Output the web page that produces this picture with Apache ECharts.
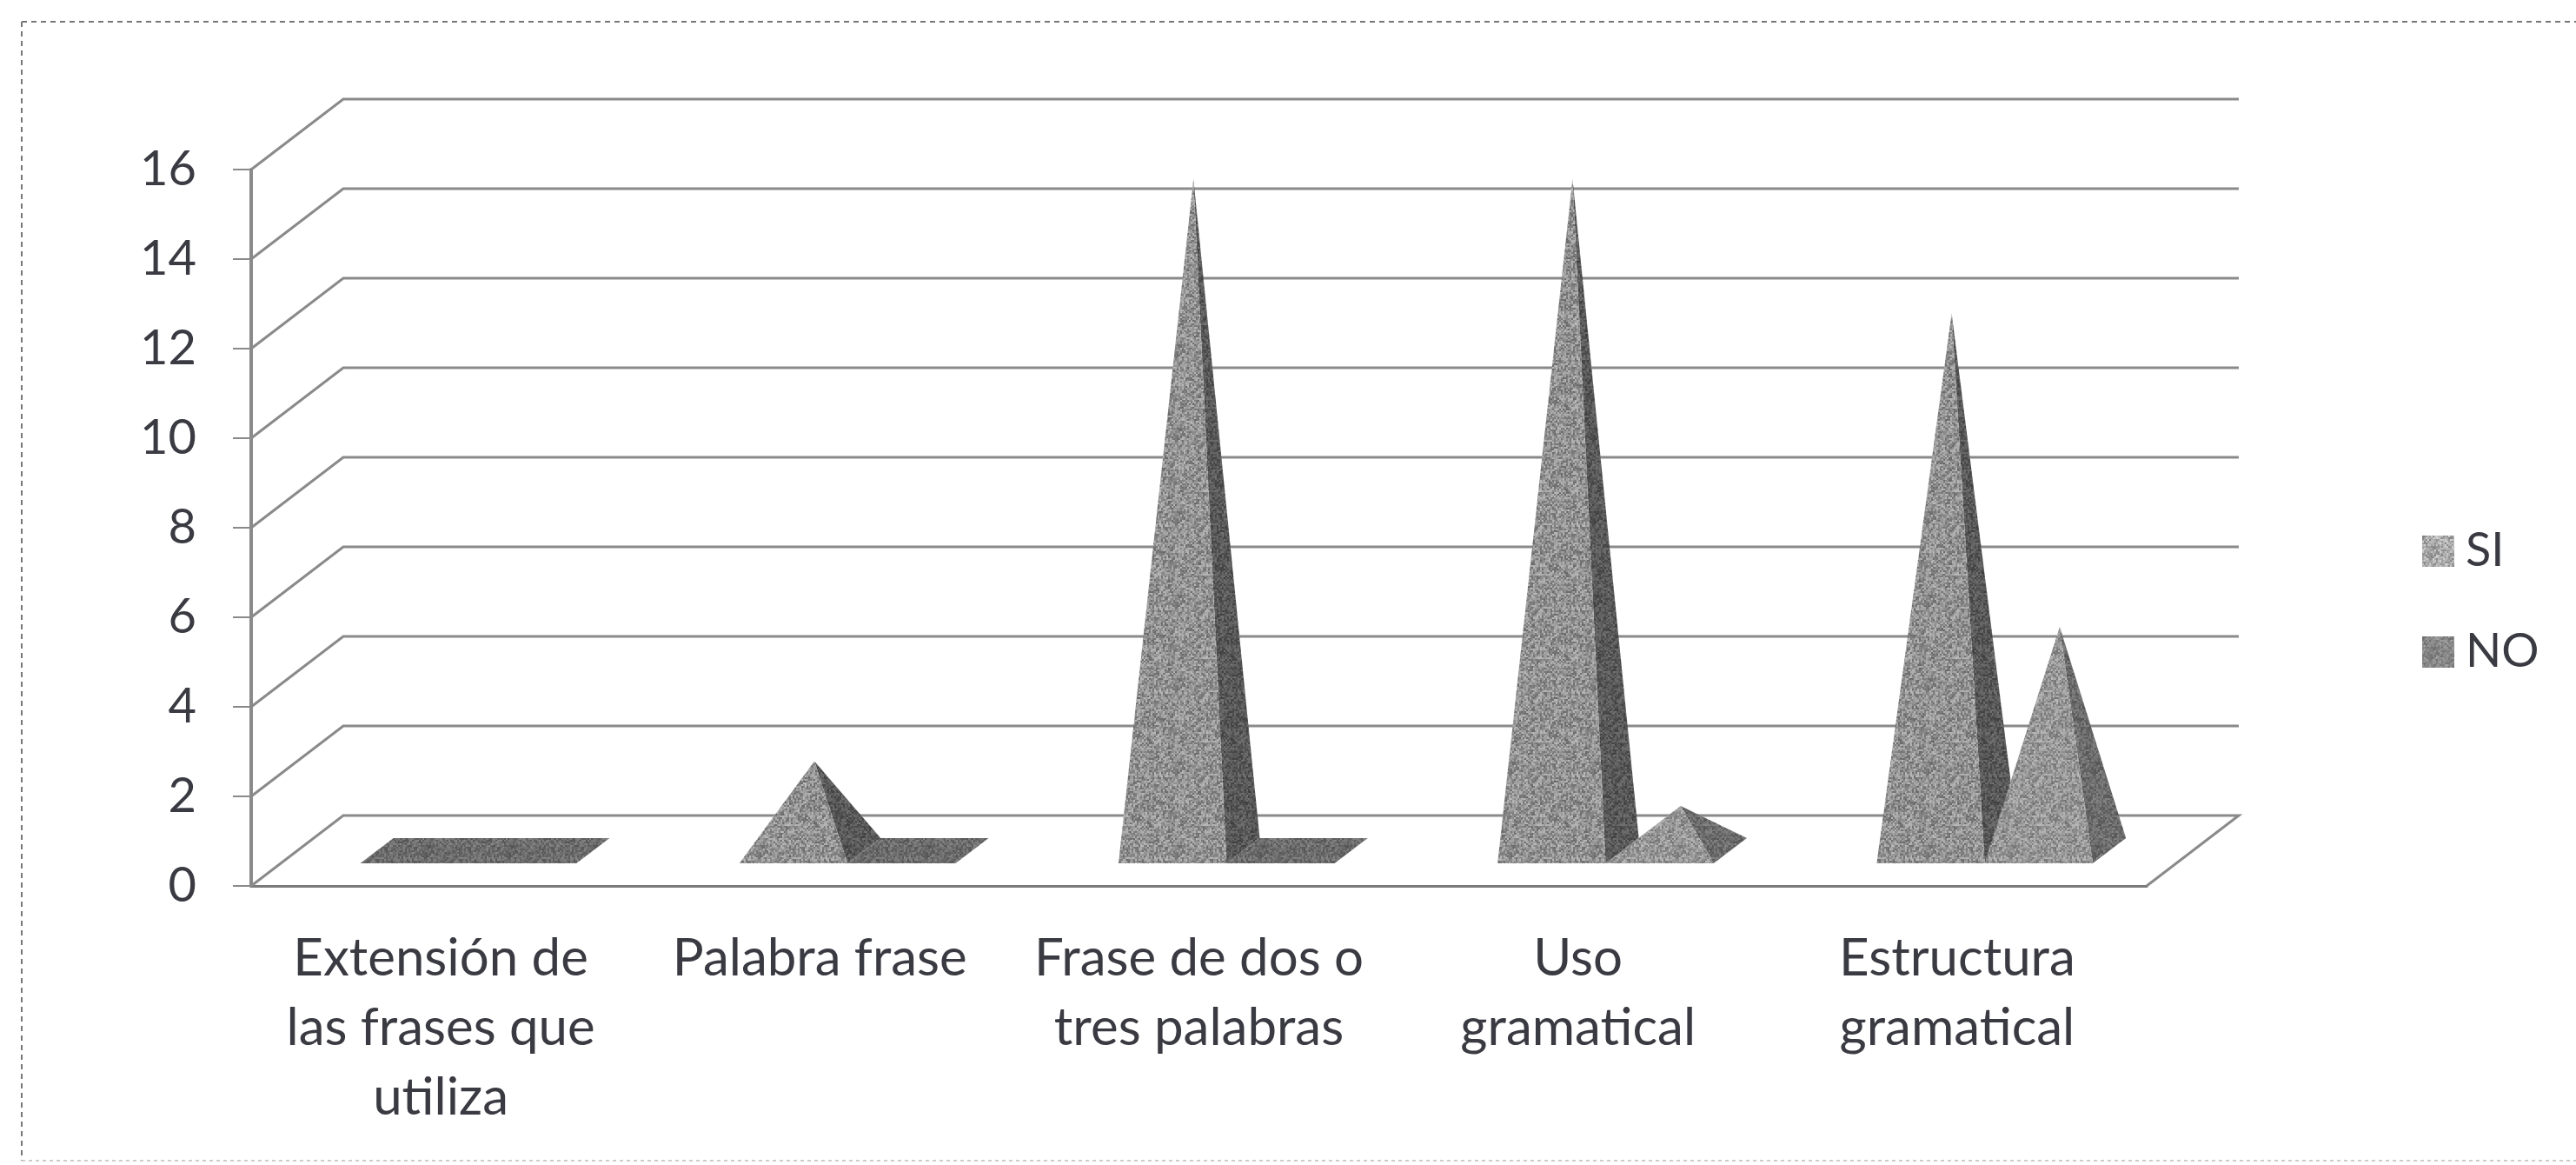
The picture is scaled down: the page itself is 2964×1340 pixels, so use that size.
<!DOCTYPE html>
<html>
<head>
<meta charset="utf-8">
<title>Extension de las frases</title>
<script src="https://cdn.jsdelivr.net/npm/echarts@6/dist/echarts.min.js"></script>
<style>
html,body{margin:0;padding:0;background:#fff;}
#chart{width:2964px;height:1340px;}
</style>
</head>
<body>
<div id="chart"></div>
<script>
var categories=["Extensión de\nlas frases que\nutiliza","Palabra frase","Frase de dos o\ntres palabras","Uso\ngramatical","Estructura\ngramatical"];
var siValues=[0,2,15,15,12];
var noValues=[0,0,0,1,5];
var yTicks=[0,2,4,6,8,10,12,14,16];

//3d look: how far the back wall sits from the front plane
var wallDx=106,wallDy=-81;
var textColor="#3a3a42";
var fontName="Lato";

//speckled tile, so the faces look like the scanned halftone
function speckle(base,amp){
    var size=96;
    var c=document.createElement("canvas");
    c.width=size;c.height=size;
    var ctx=c.getContext("2d");
    for(var y=0;y<size;y+=2){
        for(var x=0;x<size;x+=2){
            var h=Math.sin(x*12.9898+y*78.233)*43758.5453;
            h=h-Math.floor(h);
            var g=Math.max(0,Math.min(255,Math.round(base+(h-0.5)*amp)));
            ctx.fillStyle="rgb("+g+","+g+","+g+")";
            ctx.fillRect(x,y,2,2);
        }
    }
    return {image:c,repeat:"repeat"};
}

var fills={
    siFront:speckle(145,80),
    siSide:speckle(88,50),
    noFront:speckle(150,70),
    noSide:speckle(108,50),
    flat:speckle(108,50),
    siLegend:speckle(170,80),
    noLegend:speckle(135,50)
};

function poly(points,fill){
    return {type:"polygon",shape:{points:points},style:{fill:fill,stroke:null}};
}

//one pyramid: front face + right face, flat plate when the value is 0
function pyramid(slot,front,side){
    return function(params,api){
        var cat=api.value(0),val=api.value(1);
        var base=api.coord([cat,0]);
        var band=api.size([1,0])[0];
        var w=band*0.285;
        var left=base[0]+(slot-1)*w;
        var fl=[left+wallDx*0.3,base[1]+wallDy*0.32];
        var fr=[fl[0]+w,fl[1]];
        var br=[fr[0]+wallDx*0.36,base[1]+wallDy*0.68];
        var bl=[fl[0]+wallDx*0.36,br[1]];
        if(val===0){
            return poly([fl,fr,br,bl],fills.flat);
        }
        var top=[(fl[0]+br[0])/2+5,api.coord([cat,val])[1]+wallDy*0.5];
        return {type:"group",children:[
            poly([fr,br,top],side),
            poly([fl,fr,top],front)
        ]};
    };
}

function pairs(arr){
    var out=[];
    for(var i=0;i<arr.length;i++){
        out.push([i,arr[i]]);
    }
    return out;
}

function renderWall(params,api){
    var v=api.value(0);
    var y=api.coord([0,v])[1];
    var x0=params.coordSys.x,x1=params.coordSys.x+params.coordSys.width;
    var pts=[[x0,y],[x0+wallDx,y+wallDy],[x1+wallDx,y+wallDy]];
    if(v===0){
        pts.push([x1,y]);
    }
    return {type:"polyline",shape:{points:pts},style:{fill:null,stroke:"#8a8a8a",lineWidth:3}};
}

var chart=echarts.init(document.getElementById("chart"));
chart.setOption({
    backgroundColor:"#fff",
    animation:false,
    grid:{left:289,top:195,width:2181,height:824},
    legend:{
        orient:"vertical",
        left:2782,
        top:602,
        itemWidth:37,
        itemHeight:36,
        itemGap:62,
        icon:"rect",
        textStyle:{color:textColor,fontFamily:fontName,fontSize:54,padding:[0,0,0,8]},
        data:[
            {name:"SI",itemStyle:{color:fills.siLegend}},
            {name:"NO",itemStyle:{color:fills.noLegend}}
        ]
    },
    xAxis:{
        type:"category",
        data:categories,
        axisLine:{lineStyle:{color:"#7a7a7a",width:3}},
        axisTick:{length:12,lineStyle:{color:"#8a8a8a",width:2}},
        axisLabel:{interval:0,margin:44,color:textColor,fontFamily:fontName,fontSize:60,lineHeight:80}
    },
    yAxis:{
        type:"value",
        min:0,
        max:16,
        interval:2,
        axisLine:{show:true,lineStyle:{color:"#8a8a8a",width:4}},
        axisTick:{show:true,length:21,lineStyle:{color:"#8a8a8a",width:2}},
        axisLabel:{margin:63,color:textColor,fontFamily:fontName,fontSize:56},
        splitLine:{show:false}
    },
    series:[
        {type:"custom",name:"wall",silent:true,clip:false,data:yTicks.map(function(v){return [v];}),encode:{y:0},renderItem:renderWall},
        {type:"custom",name:"SI",clip:false,data:pairs(siValues),encode:{x:0,y:1},renderItem:pyramid(0,fills.siFront,fills.siSide)},
        {type:"custom",name:"NO",clip:false,data:pairs(noValues),encode:{x:0,y:1},renderItem:pyramid(1,fills.noFront,fills.noSide)}
    ],
    graphic:[
        {type:"line",shape:{x1:25,y1:25,x2:2964,y2:25},style:{stroke:"#777",lineWidth:2,lineDash:[6,5]}},
        {type:"line",shape:{x1:25,y1:25,x2:25,y2:1335},style:{stroke:"#777",lineWidth:2,lineDash:[6,5]}},
        {type:"line",shape:{x1:25,y1:1335,x2:2964,y2:1335},style:{stroke:"#ccc",lineWidth:2,lineDash:[4,4]}}
    ]
});
</script>
</body>
</html>
